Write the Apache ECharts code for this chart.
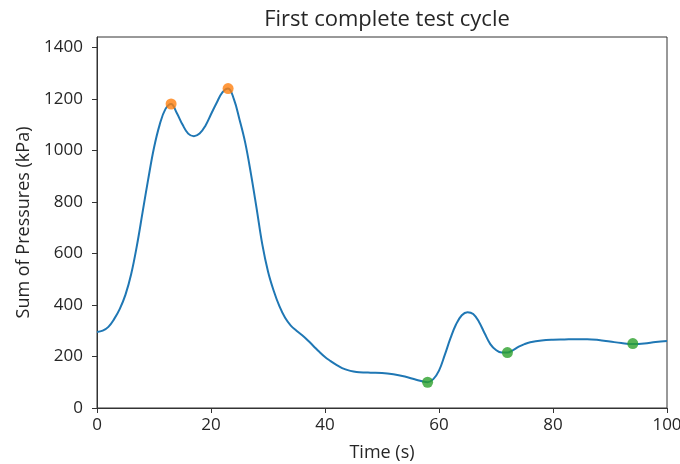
<!DOCTYPE html>
<html>
<head>
<meta charset="utf-8">
<script src="https://cdn.jsdelivr.net/npm/echarts@6/dist/echarts.min.js"></script>
<style>
  html, body { margin: 0; padding: 0; background: #fff; }
  #chart { width: 680px; height: 464px; }
</style>
</head>
<body>
<div id="chart"></div>
<script>
// Pressure trace over the first test cycle (time in s, pressure sum in kPa)
const timeS = [0, 1, 2, 3, 4, 5, 6, 7, 8, 9, 10, 11, 12, 13, 14, 15, 16, 17, 18, 19,
  20, 21, 22, 23, 24, 25, 26, 27, 28, 29, 30, 31, 32, 33, 34, 35, 36, 37, 38, 39,
  40, 41, 42, 43, 44, 45, 46, 48, 50, 52, 54, 56, 58, 59, 60, 61, 62, 63, 64, 65,
  66, 67, 68, 69, 70, 71, 72, 73, 74, 75, 76, 78, 80, 82, 84, 86, 88, 90, 92, 94,
  96, 98, 100];
const pressureKPa = [295, 300, 315, 345, 385, 440, 520, 630, 760, 890, 1010, 1100, 1160, 1180, 1145, 1100, 1065, 1055, 1065, 1095,
  1140, 1185, 1225, 1240, 1200, 1120, 1030, 910, 775, 635, 530, 455, 395, 350, 320, 300, 282, 262, 240, 218,
  198, 182, 167, 155, 147, 142, 139, 137, 136, 131, 122, 110, 100, 112, 145, 205, 270, 325, 360, 372,
  365, 335, 290, 248, 225, 215, 215, 225, 238, 248, 255, 262, 265, 266, 267, 267, 264, 258, 252, 248,
  250, 256, 260];

// Highlighted peaks and troughs
const peakTimes = [13, 23];
const peakValues = [1180, 1240];
const troughTimes = [58, 72, 94];
const troughValues = [100, 215, 250];

// Axis ticks
const xTicks = [0, 20, 40, 60, 80, 100];
const yTicks = [0, 200, 400, 600, 800, 1000, 1200, 1400];

const zip = (xs, ys) => xs.map((x, i) => [x, ys[i]]);

const FONT = 'Open Sans';
const TEXT = '#262626';
const AXIS = '#333333';

const chart = echarts.init(document.getElementById('chart'), null, { renderer: 'canvas' });

chart.setOption({
  animation: false,
  backgroundColor: '#ffffff',
  title: {
    text: 'First complete test cycle',
    left: 382,
    textAlign: 'center',
    top: 4,
    textStyle: { fontFamily: FONT, fontSize: 22, fontWeight: 'normal', color: TEXT }
  },
  grid: {
    left: 97, right: 13, top: 37, bottom: 56,
    outerBoundsMode: 'none',
    show: true, borderColor: AXIS, borderWidth: 1, backgroundColor: 'transparent'
  },
  xAxis: {
    type: 'value',
    min: 0, max: 100, interval: 20,
    name: 'Time (s)',
    nameLocation: 'middle',
    nameGap: 36,
    nameTextStyle: { fontFamily: FONT, fontSize: 18, color: TEXT },
    axisLine: { show: true, lineStyle: { color: AXIS, width: 1 } },
    axisTick: { show: true, inside: false, length: 5, lineStyle: { color: AXIS } },
    axisLabel: {
      fontFamily: FONT, fontSize: 17, color: TEXT, margin: 9,
      customValues: xTicks,
      formatter: v => String(v)
    },
    splitLine: { show: false }
  },
  yAxis: {
    type: 'value',
    min: 0, max: 1440,
    name: 'Sum of Pressures (kPa)',
    nameLocation: 'middle',
    nameRotate: 90,
    nameGap: 63,
    nameTextStyle: { fontFamily: FONT, fontSize: 18, color: TEXT },
    axisLine: { show: true, lineStyle: { color: AXIS, width: 1 } },
    axisTick: { show: true, inside: false, length: 5, lineStyle: { color: AXIS }, customValues: yTicks },
    axisLabel: {
      fontFamily: FONT, fontSize: 17, color: TEXT, margin: 14,
      customValues: yTicks,
      formatter: v => String(v)
    },
    splitLine: { show: false }
  },
  series: [
    {
      type: 'line',
      data: zip(timeS, pressureKPa),
      smooth: 0.4,
      showSymbol: false,
      lineStyle: { color: '#1f77b4', width: 2 },
      z: 2
    },
    {
      type: 'scatter',
      data: zip(peakTimes, peakValues),
      symbol: 'circle',
      symbolSize: 11,
      itemStyle: { color: '#ff7f0e' },
      z: 3
    },
    {
      type: 'scatter',
      data: zip(troughTimes, troughValues),
      symbol: 'circle',
      symbolSize: 11,
      itemStyle: { color: '#2ca02c' },
      z: 3
    }
  ]
});
</script>
</body>
</html>
